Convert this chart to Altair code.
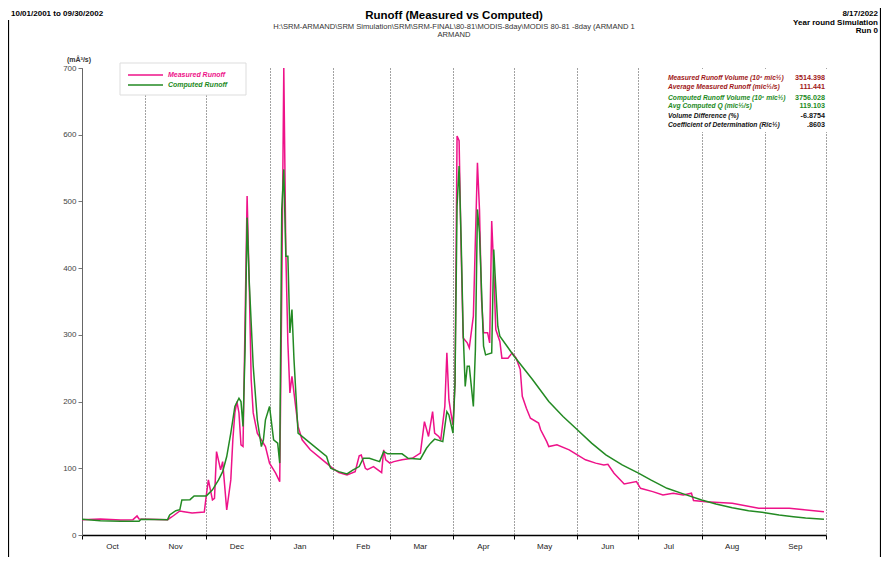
import altair as alt
import pandas as pd

# ---------------- data ----------------
MONTH_LABELS = ["Oct", "Nov", "Dec", "Jan", "Feb", "Mar", "Apr", "May", "Jun", "Jul", "Aug", "Sep", ""]
MONTH_START = [0, 31, 61, 92, 123, 151, 182, 212, 243, 273, 304, 335, 365]   # day of water year
Y_TICKS = [0, 100, 200, 300, 400, 500, 600, 700]

MEAS_DAY = [0, 9, 19, 25, 27, 28, 42, 44, 48, 50,
            54, 60, 61, 62, 64, 65, 66, 68, 69, 71,
            73, 74, 75, 76, 77, 78, 79, 81, 82, 83,
            84, 86, 90, 92, 95, 97, 98, 99, 100, 101,
            102, 103, 104, 106, 108, 112, 118, 122, 123, 126,
            130, 134, 136, 137, 139, 140, 143, 145, 147, 148,
            149, 151, 153, 157, 162, 166, 168, 170, 172, 173,
            175, 176, 178, 179, 180, 181, 182, 183, 184, 185,
            186, 187, 189, 190, 192, 194, 195, 196, 197, 199,
            200, 201, 202, 203, 205, 206, 209, 211, 213, 215,
            216, 218, 220, 224, 225, 228, 229, 233, 239, 243,
            247, 252, 256, 258, 261, 266, 272, 274, 280, 285,
            290, 295, 299, 300, 306, 319, 332, 347, 364]
MEAS_Q = [23, 24, 22.5, 23, 28.5, 24, 23, 27, 36, 35,
          33, 34.5, 60, 82.6, 52.6, 55, 125, 97.6, 110, 37.5,
          82.6, 142.7, 183, 200, 183, 135, 132.7, 508, 383, 233,
          183, 152.7, 132.6, 107.7, 92.7, 80, 363, 700, 423, 288,
          213, 238, 213, 162.7, 142.7, 127.7, 112.7, 102.6, 100, 93.6,
          90, 95, 118.7, 120, 100, 98, 102.6, 98, 93.6, 127.7,
          112.7, 107.7, 110, 112.7, 115, 122.7, 170, 147.7, 185, 152.7,
          147.7, 142.7, 192.7, 273, 202.8, 182.8, 165, 228, 598, 591,
          428, 295.5, 288, 280.5, 328, 558, 488, 353, 303, 303,
          288, 470.6, 398, 308, 290, 265, 265, 273, 265, 248,
          207.8, 190, 175, 167.8, 157.7, 140, 132.6, 135.2, 127.7, 120,
          112.7, 107.7, 105, 106, 92.7, 76.6, 80, 70, 65, 60,
          62.6, 60, 62.6, 51.6, 50, 47.6, 40, 40, 35]

COMP_DAY = [0, 9, 19, 28, 29, 42, 43, 46, 48, 49,
            53, 55, 61, 64, 67, 69, 71, 73, 75, 77,
            78, 79, 80, 81, 82, 84, 86, 88, 89, 90,
            92, 94, 96, 97, 98, 99, 100, 101, 102, 103,
            104, 106, 112, 120, 121, 122, 126, 130, 133, 136,
            138, 141, 146, 148, 150, 157, 160, 166, 169, 171,
            173, 177, 179, 180, 182, 183, 184, 185, 186, 187,
            188, 189, 190, 192, 193, 194, 195, 197, 198, 201,
            202, 204, 205, 212, 221, 229, 236, 243, 250, 257,
            265, 273, 279, 287, 295, 304, 311, 319, 327, 335,
            342, 349, 355, 364]
COMP_Q = [23.6, 21.5, 20.5, 20.5, 23.6, 23, 30, 36.5, 38, 52.6,
          53, 58.6, 58.6, 67.6, 82.6, 95, 117.6, 152.7, 192.7, 205,
          200, 162.7, 278, 475.7, 383, 253, 172.7, 132.6, 142.7, 172.7,
          192.7, 142.7, 137.7, 107.7, 488, 548, 418, 418, 303, 338,
          263, 152.7, 137.7, 117.6, 107.7, 100, 95, 91.6, 97.6, 102.6,
          115, 115, 110, 125, 121.7, 121.7, 115, 113.7, 130, 137.7,
          143.7, 140, 185, 180, 152.7, 228, 493, 553, 443, 303,
          222.8, 252.8, 252.8, 192.7, 278, 488, 453, 283, 270, 273,
          428, 313, 298, 268, 233, 200, 177.7, 157.7, 137.7, 120,
          105, 92.7, 82.5, 70, 61.6, 52.6, 46.6, 41, 36.5, 33.5,
          30, 27.5, 25.5, 23.6]

SERIES_NAMES = ["Measured Runoff", "Computed Runoff"]
STAT_LABELS = ["Measured Runoff Volume (10\u2076 m\u00eec\u00bd)",
               "Average Measured Runoff  (m\u00eec\u00bd/s)",
               "Computed Runoff Volume (10\u2076 m\u00eec\u00bd)",
               "Avg Computed Q   (m\u00eec\u00bd/s)",
               "Volume Difference (%)",
               "Coefficient of Determination (R\u00eec\u00bd)"]
STAT_VALUES = ["3514.398", "111.441", "3756.028", "119.103", "-6.8754", ".8603"]

HEADER_LEFT = "10/01/2001 to 09/30/2002"
TITLE = "Runoff (Measured vs Computed)"
SUBTITLE = [r"H:\SRM-ARMAND\SRM Simulation\SRM\SRM-FINAL\80-81\MODIS-8day\MODIS 80-81 -8day (ARMAND 1", "ARMAND"]
HEADER_RIGHT = ["8/17/2022", "Year round Simulation", "Run 0"]
Y_UNIT = "(m\u00c2\u00b3/s)"

# ---------------- styling ----------------
PINK = "#ee1289"
GREEN = "#238a23"
DARKRED = "#a01818"
FONT = "Liberation Sans"
W, H = 744, 467

assert len(MEAS_DAY) == len(MEAS_Q)
assert len(COMP_DAY) == len(COMP_Q)

meas = pd.DataFrame({"day": MEAS_DAY, "q": MEAS_Q})
comp = pd.DataFrame({"day": COMP_DAY, "q": COMP_Q})
one = pd.DataFrame({"a": [0]})

label_expr = f"{MONTH_LABELS}[indexof({MONTH_START}, datum.value)]"

x_enc = alt.X("day:Q",
              scale=alt.Scale(domain=[0, 365], nice=False, zero=False),
              axis=alt.Axis(values=MONTH_START, labelExpr=label_expr, labelOffset=30,
                            labelAlign="center", labelFontSize=8, labelColor="#222",
                            labelFont=FONT, labelPadding=3, labelOverlap=False,
                            labelFlush=False, labelBound=False,
                            tickSize=4, tickColor="#000", domainColor="#000", domainWidth=1.5,
                            grid=True, gridDash=[1, 2], gridColor="#444", gridWidth=1,
                            title=None))
y_enc = alt.Y("q:Q",
              scale=alt.Scale(domain=[0, 700], nice=False, zero=True),
              axis=alt.Axis(values=Y_TICKS, labelFontSize=8, labelColor="#444", labelFont=FONT,
                            labelPadding=2, tickSize=4, tickColor="#777", domainColor="#666",
                            grid=False, title=None))

layers = []

# white boxes behind legend and statistics
layers.append(alt.Chart(one).mark_rect(fill="white", stroke="#dddddd", strokeWidth=1).encode(
    x=alt.value(38), x2=alt.value(164), y=alt.value(-5), y2=alt.value(27)))
layers.append(alt.Chart(one).mark_rect(fill="white").encode(
    x=alt.value(581), x2=alt.value(750), y=alt.value(1), y2=alt.value(64)))

# series
layers.append(alt.Chart(meas).mark_line(color=PINK, strokeWidth=1.5).encode(x=x_enc, y=y_enc))
layers.append(alt.Chart(comp).mark_line(color=GREEN, strokeWidth=1.5).encode(x=x_enc, y=y_enc))

# legend
for i, (name, col) in enumerate(zip(SERIES_NAMES, [PINK, GREEN])):
    yy = 7 + 10 * i
    layers.append(alt.Chart(one).mark_rule(color=col, strokeWidth=1.6).encode(
        x=alt.value(46), x2=alt.value(81), y=alt.value(yy)))
    layers.append(alt.Chart(one).mark_text(text=name, align="left", baseline="middle", font=FONT,
                                           fontSize=7, fontStyle="italic", fontWeight="bold",
                                           color=col).encode(x=alt.value(86), y=alt.value(yy)))

# statistics box
stat_colors = [DARKRED, DARKRED, GREEN, GREEN, "#111", "#111"]
stat_y = [10, 19, 30, 38, 48, 57]
for lab, val, col, yy in zip(STAT_LABELS, STAT_VALUES, stat_colors, stat_y):
    layers.append(alt.Chart(one).mark_text(text=lab, align="left", baseline="middle", font=FONT,
                                           fontSize=6.7, fontStyle="italic", fontWeight="bold",
                                           color=col).encode(x=alt.value(586), y=alt.value(yy)))
    layers.append(alt.Chart(one).mark_text(text=val, align="right", baseline="middle", font=FONT,
                                           fontSize=7.2, fontWeight="bold",
                                           color=col).encode(x=alt.value(743), y=alt.value(yy)))

# headers
layers.append(alt.Chart(one).mark_text(text=HEADER_LEFT, align="left", baseline="middle", font=FONT,
                                       fontSize=8, fontWeight="bold", color="#000").encode(
    x=alt.value(-71), y=alt.value(-54)))
layers.append(alt.Chart(one).mark_text(text=TITLE, align="center", baseline="middle", font=FONT,
                                       fontSize=11.5, fontWeight="bold", color="#000").encode(
    x=alt.value(W / 2), y=alt.value(-52.5)))
for i, s in enumerate(SUBTITLE):
    layers.append(alt.Chart(one).mark_text(text=s, align="center", baseline="middle", font=FONT,
                                           fontSize=7.6, color="#333").encode(
        x=alt.value(W / 2), y=alt.value(-41 + 8 * i)))
for i, s in enumerate(HEADER_RIGHT):
    layers.append(alt.Chart(one).mark_text(text=s, align="right", baseline="middle", font=FONT,
                                           fontSize=8, fontWeight="bold", color="#000").encode(
        x=alt.value(796), y=alt.value(-54 + 8.5 * i)))
layers.append(alt.Chart(one).mark_text(text=Y_UNIT, align="center", baseline="middle", font=FONT,
                                       fontSize=7, fontWeight="bold", color="#333").encode(
    x=alt.value(-3), y=alt.value(-8)))

# outer frame lines
layers.append(alt.Chart(one).mark_rule(color="#000", strokeWidth=1.2).encode(
    x=alt.value(-73.5), y=alt.value(-48), y2=alt.value(490)))
layers.append(alt.Chart(one).mark_rule(color="#000", strokeWidth=1.2).encode(
    x=alt.value(798.5), y=alt.value(-60), y2=alt.value(490)))

chart = alt.layer(*layers).properties(
    width=W, height=H,
    padding={"left": 74, "top": 60, "right": 55, "bottom": 22},
    autosize=alt.AutoSizeParams(type="none"),
    background="white",
).configure_view(stroke=None)

chart.save("out.html", embed_options={"renderer": "svg", "actions": False})
